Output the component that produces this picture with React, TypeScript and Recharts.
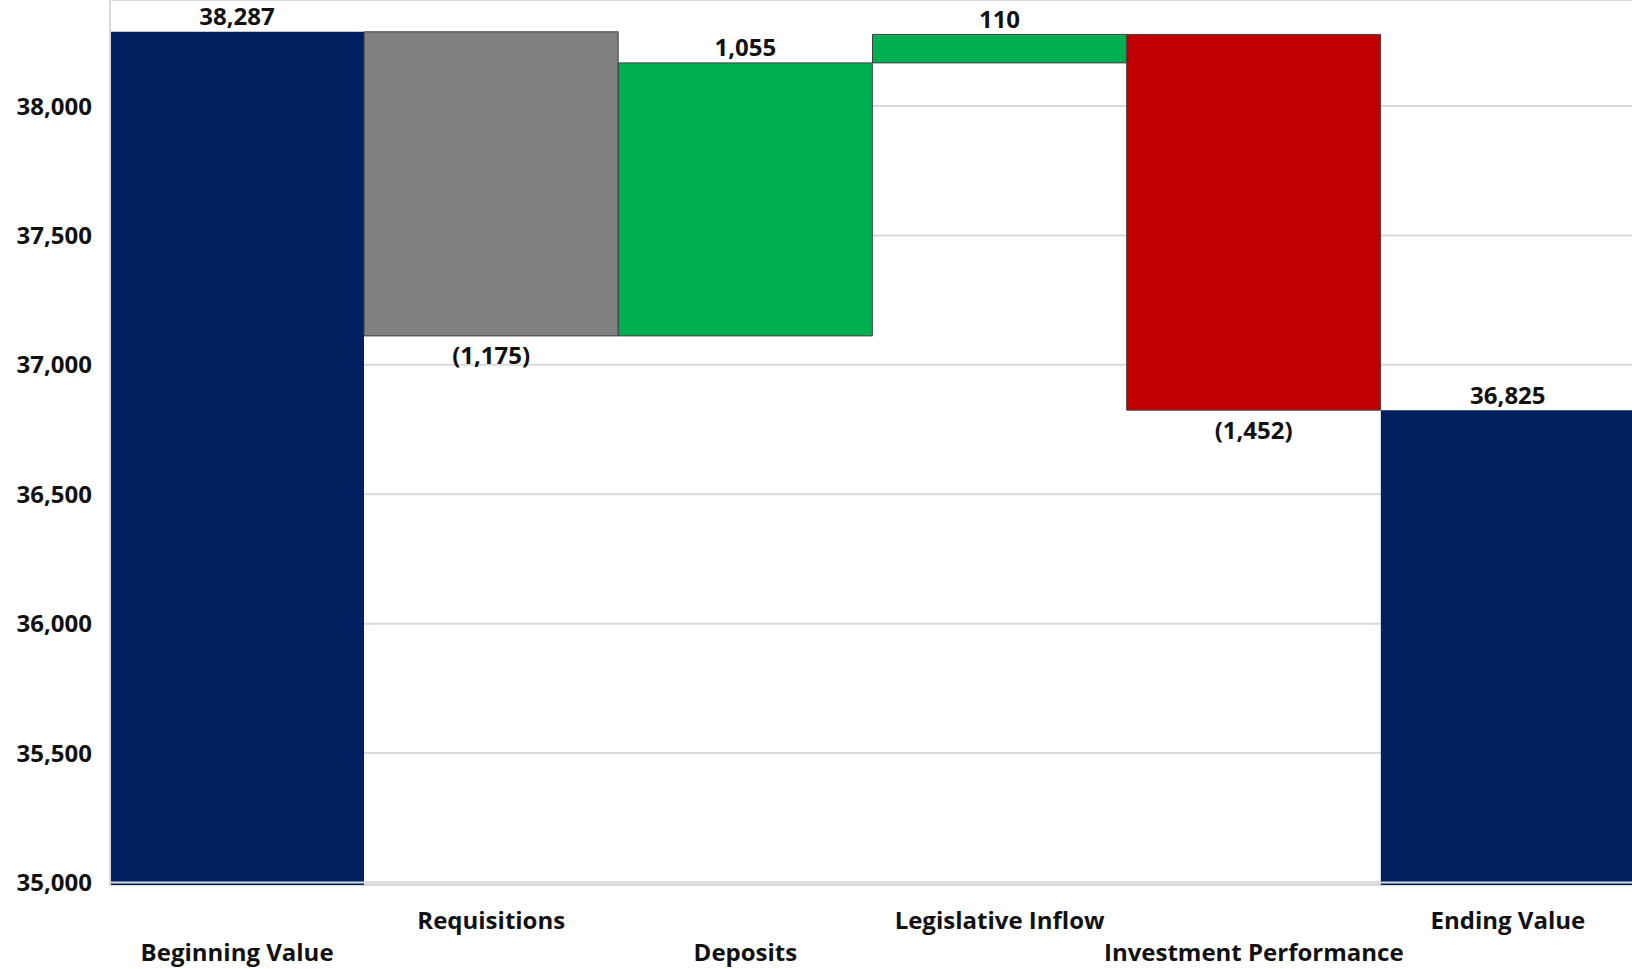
import { BarChart, Bar, XAxis, YAxis, CartesianGrid, ReferenceLine, Cell } from "recharts";

const categories = [
  "Beginning Value",
  "Requisitions",
  "Deposits",
  "Legislative Inflow",
  "Investment Performance",
  "Ending Value",
];
// totals are absolute, the rest are changes
const amounts = [38287, -1175, 1055, 110, -1452, 36825];
const isTotal = [true, false, false, false, false, true];
const yTicks = [35000, 35500, 36000, 36500, 37000, 37500, 38000];

const colors = ["#002060", "#808080", "#00B050", "#00B050", "#C00000", "#002060"];
const FONT = "'Open Sans', sans-serif";

let running = 0;
const data = categories.map((name, i) => {
  let range: [number, number];
  if (isTotal[i]) {
    running = amounts[i];
    range = [0, amounts[i]];
  } else {
    const start = running;
    running = start + amounts[i];
    range = [Math.min(start, running), Math.max(start, running)];
  }
  return { name, range, amount: amounts[i] };
});

const fmt = (v: number) => {
  const s = Math.abs(v).toLocaleString("en-US");
  return v < 0 ? `(${s})` : s;
};

const ValueLabel = (props: any) => {
  const { x, y, width, height, index } = props;
  const v = amounts[index];
  const top = Math.min(y, y + height);
  const bottom = Math.max(y, y + height);
  const cy = v < 0 ? bottom + 19 : top - 16;
  return (
    <text
      x={x + width / 2}
      y={cy}
      textAnchor="middle"
      dominantBaseline="central"
      fontFamily={FONT}
      fontWeight={700}
      fontSize={24}
      fill="#111"
    >
      {fmt(v)}
    </text>
  );
};

const CategoryTick = ({ x, y, payload, index }: any) => (
  <text
    x={x}
    y={y + (index % 2 === 1 ? 32 : 64)}
    textAnchor="middle"
    dominantBaseline="central"
    fontFamily={FONT}
    fontWeight={700}
    fontSize={24}
    fill="#111"
  >
    {payload.value}
  </text>
);

export default function App() {
  return (
    <div style={{ position: "absolute", left: 0, top: 0, width: 1632, overflow: "hidden", background: "#fff" }}>
      <BarChart
        width={1635}
        height={969}
        data={data}
        margin={{ top: 0, right: 0, bottom: 0, left: 0 }}
        barCategoryGap={0}
      >
        <CartesianGrid vertical={false} stroke="#d9d9d9" strokeWidth={2} />
        <XAxis
          dataKey="name"
          interval={0}
          height={84}
          tickLine={false}
          axisLine={false}
          tickSize={0}
          tick={<CategoryTick />}
        />
        <YAxis
          width={110}
          domain={[34990, 38410]}
          ticks={yTicks}
          allowDataOverflow
          tickFormatter={(v: number) => v.toLocaleString("en-US")}
          tickLine={false}
          tickSize={0}
          tickMargin={18}
          axisLine={{ stroke: "#d9d9d9", strokeWidth: 2 }}
          tick={{ fontFamily: FONT, fontWeight: 700, fontSize: 24, fill: "#111" }}
        />
        <Bar dataKey="range" isAnimationActive={false} label={<ValueLabel />}>
          {data.map((d, i) => (
            <Cell
              key={d.name}
              fill={colors[i]}
              stroke={isTotal[i] ? "none" : "#404040"}
              strokeWidth={1}
            />
          ))}
        </Bar>
        <ReferenceLine y={35000} stroke="#d9d9d9" strokeWidth={2} />
      </BarChart>
    </div>
  );
}
